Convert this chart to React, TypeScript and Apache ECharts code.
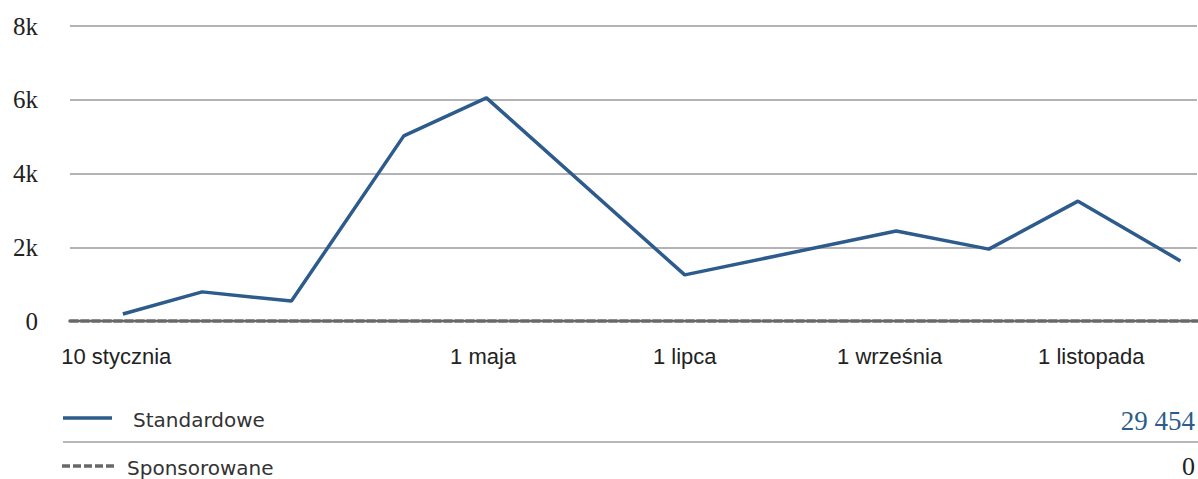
import React, { useEffect, useRef } from "react";
import * as echarts from "echarts";

// ---- data ----
const pointDates = [
  "2023-01-12", "2023-02-05", "2023-03-04", "2023-04-07", "2023-05-02",
  "2023-07-01", "2023-09-03", "2023-10-01", "2023-10-28", "2023-11-28",
];
const standardValues = [190, 790, 540, 5020, 6050, 1250, 2440, 1950, 3250, 1630];
const sponsoredValues = [0, 0, 0, 0, 0, 0, 0, 0, 0, 0];
const tickDates = ["2023-01-10", "2023-05-01", "2023-07-01", "2023-09-01", "2023-11-01"];
const tickLabels = ["10 stycznia", "1 maja", "1 lipca", "1 września", "1 listopada"];
const seriesNames = ["Standardowe", "Sponsorowane"];
const seriesTotals = ["29 454", "0"];
const axisStartDate = "2022-12-27";
const axisEndDate = "2023-12-03";

const BASE = Date.UTC(2023, 0, 1);
const dayOf = (s: string) => {
  const [y, m, d] = s.split("-").map(Number);
  return Math.round((Date.UTC(y, m - 1, d) - BASE) / 86400000);
};

const BLUE = "#2c5b8c";
const GREY_DASH = "#68686b";
const GRID = "#b3b3b7";

export default function App() {
  const ref = useRef<HTMLDivElement>(null);
  useEffect(() => {
    if (!ref.current) return;
    const chart = echarts.init(ref.current, undefined, { renderer: "svg" });
    const tickDays = tickDates.map(dayOf);
    const labelMap: Record<number, string> = {};
    tickDays.forEach((d, i) => (labelMap[d] = tickLabels[i]));
    const serif = "'Liberation Serif', 'DejaVu Serif', serif";
    const sans = "'DejaVu Sans', 'Open Sans', sans-serif";
    chart.setOption({
      animation: false,
      grid: { left: 70, right: 1, top: 26, bottom: 158 },
      xAxis: {
        type: "value",
        min: dayOf(axisStartDate),
        max: dayOf(axisEndDate),
        splitLine: { show: false },
        axisLine: { show: true, onZero: true, lineStyle: { color: GREY_DASH, width: 3.5, type: [8, 3] } },
        axisTick: { show: false },
        axisLabel: {
          customValues: tickDays,
          formatter: (v: number) => labelMap[Math.round(v)] ?? "",
          fontFamily: "'Liberation Sans Narrow', 'Liberation Sans', sans-serif",
          fontSize: 22,
          color: "#222",
          margin: 24,
        },
        z: 3,
      },
      yAxis: {
        type: "value",
        min: 0,
        max: 8000,
        interval: 2000,
        axisLine: { show: false },
        axisTick: { show: false },
        splitLine: { lineStyle: { color: ["rgba(0,0,0,0)", GRID, GRID, GRID, GRID], width: 2 } },
        axisLabel: {
          formatter: (v: number) => (v === 0 ? "0" : v / 1000 + "k"),
          fontFamily: serif,
          fontSize: 25,
          color: "#222",
          margin: 32,
        },
      },
      series: [
        {
          name: seriesNames[0],
          type: "line",
          data: pointDates.map((d, i) => [dayOf(d), standardValues[i]]),
          showSymbol: false,
          symbol: "none",
          lineStyle: { color: BLUE, width: 3.5 },
          z: 5,
        },
        {
          name: seriesNames[1],
          type: "line",
          data: pointDates.map((d, i) => [dayOf(d), sponsoredValues[i]]),
          showSymbol: false,
          symbol: "none",
          lineStyle: { color: GREY_DASH, width: 0 },
          z: 1,
        },
      ],
      graphic: [
        { type: "line", shape: { x1: 63, y1: 418, x2: 112, y2: 418 }, style: { stroke: BLUE, lineWidth: 3.5 } },
        {
          type: "text", x: 133, y: 420,
          style: { text: seriesNames[0], font: `20px ${sans}`, fill: "#333", verticalAlign: "middle", align: "left" },
        },
        {
          type: "text", x: 1195, y: 421,
          style: { text: seriesTotals[0], font: `27px ${serif}`, fill: BLUE, verticalAlign: "middle", align: "right" },
        },
        { type: "line", shape: { x1: 63, y1: 442, x2: 1198, y2: 442 }, style: { stroke: "#b8b8b8", lineWidth: 2 } },
        {
          type: "line", shape: { x1: 62, y1: 466, x2: 114, y2: 466 },
          style: { stroke: GREY_DASH, lineWidth: 3.5, lineDash: [8, 3] },
        },
        {
          type: "text", x: 127, y: 478,
          style: { text: seriesNames[1], font: `20px ${sans}`, fill: "#333", verticalAlign: "bottom", align: "left" },
        },
        {
          type: "text", x: 1195, y: 479,
          style: { text: seriesTotals[1], font: `26px ${serif}`, fill: "#222", verticalAlign: "bottom", align: "right" },
        },
      ],
    });
    return () => chart.dispose();
  }, []);
  return (
    <div
      ref={ref}
      style={{ position: "absolute", left: 0, top: 0, width: 1198, height: 479 }}
    />
  );
}
